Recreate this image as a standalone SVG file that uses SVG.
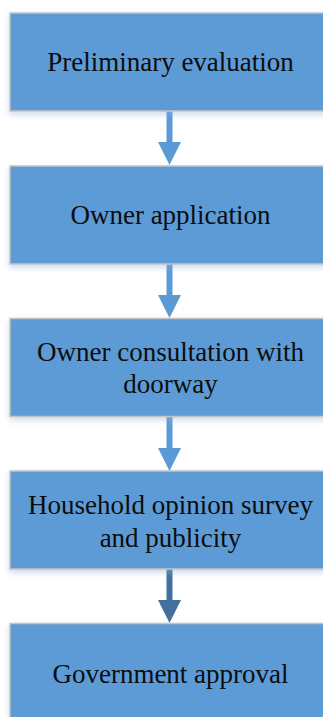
<svg xmlns="http://www.w3.org/2000/svg" width="323" height="717" viewBox="0 0 323 717">
  <defs>
    <style>
      .box { fill: #5b9bd5; stroke: #c4c4c4; stroke-width: 1.5; filter: url(#sh); }
      text.lbl { font-family: 'Liberation Serif', 'Tinos', 'Times New Roman', Times, 'DejaVu Serif', 'Noto Serif', serif; font-size: 27px; fill: #0d0d0d; text-anchor: middle; }
      .conn { stroke: #5b9bd5; stroke-width: 6; fill: none; }
      .conn.dark { stroke: #41719c; }
    </style>
    <filter id="sh" x="-10%" y="-10%" width="120%" height="130%">
      <feDropShadow dx="0" dy="3" stdDeviation="3" flood-color="#8fb4dc" flood-opacity="0.45"/>
    </filter>
    <marker id="ah" viewBox="0 0 23 23" markerWidth="23" markerHeight="23" refX="0" refY="11.5" orient="auto" markerUnits="userSpaceOnUse">
      <path d="M0,0 L23,11.5 L0,23 z" fill="#5b9bd5"/>
    </marker>
    <marker id="ahd" viewBox="0 0 23 23" markerWidth="23" markerHeight="23" refX="0" refY="11.5" orient="auto" markerUnits="userSpaceOnUse">
      <path d="M0,0 L23,11.5 L0,23 z" fill="#41719c"/>
    </marker>
  </defs>
  <rect width="323" height="717" fill="#ffffff"/>

  <g id="connectors">
    <line class="conn" x1="169.5" y1="111" x2="169.5" y2="142" marker-end="url(#ah)"/>
    <line class="conn" x1="169.5" y1="264" x2="169.5" y2="295" marker-end="url(#ah)"/>
    <line class="conn" x1="169.5" y1="416" x2="169.5" y2="448" marker-end="url(#ah)"/>
    <line class="conn dark" x1="169.5" y1="569" x2="169.5" y2="600" marker-end="url(#ahd)"/>
  </g>

  <g id="n1">
    <rect class="box" x="10" y="13" width="320" height="98"/>
    <text class="lbl" x="170.5" y="70.5" style="font-family:'Liberation Serif', serif">Preliminary evaluation</text>
  </g>
  <g id="n2">
    <rect class="box" x="10" y="166" width="320" height="98"/>
    <text class="lbl" x="170.5" y="223.5" style="font-family:'Liberation Serif', serif">Owner application</text>
  </g>
  <g id="n3">
    <rect class="box" x="10" y="318.5" width="320" height="98"/>
    <text class="lbl" x="170.5" y="360.5" style="font-family:'Liberation Serif', serif">Owner consultation with</text>
    <text class="lbl" x="170.5" y="393" style="font-family:'Liberation Serif', serif">doorway</text>
  </g>
  <g id="n4">
    <rect class="box" x="10" y="471" width="320" height="98"/>
    <text class="lbl" x="170.5" y="513.5" style="font-family:'Liberation Serif', serif">Household opinion survey</text>
    <text class="lbl" x="170.5" y="546.5" style="font-family:'Liberation Serif', serif">and publicity</text>
  </g>
  <g id="n5">
    <rect class="box" x="10" y="623.5" width="320" height="98"/>
    <text class="lbl" x="170.5" y="683" style="font-family:'Liberation Serif', serif">Government approval</text>
  </g>
</svg>
